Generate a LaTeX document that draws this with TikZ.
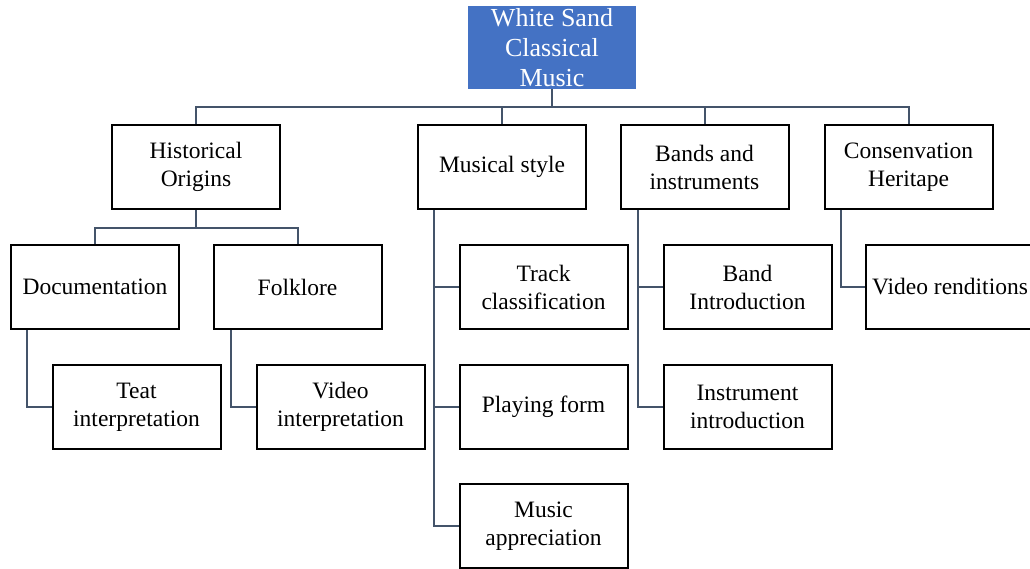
\documentclass[tikz,border=0pt]{standalone}
\usepackage{fontspec}
\setmainfont{Liberation Serif}
\usepackage{tikz}
\usepackage{xcolor}
\definecolor{rootblue}{HTML}{4472C4}
\definecolor{linkgray}{HTML}{44546A}

\begin{document}
\begin{tikzpicture}[x=1pt, y=-1pt,
    topic/.style={draw=black, line width=2pt, minimum width=168pt, minimum height=84pt,
        inner sep=2pt, align=center, font=\fontsize{23.5}{28}\selectfont},
    rootbox/.style={fill=rootblue, text=white, minimum width=168pt, minimum height=83pt,
        inner sep=0pt, align=center, font=\fontsize{26}{30}\selectfont},
    link/.style={draw=linkgray, line width=2pt}]
    \useasboundingbox (0,0) rectangle (1030,568);

    \node[rootbox] (root) at (552,47.5) {White Sand\\Classical\\Music};

    % first level
    \node[topic] (hist) at (196,167) {Historical\\Origins};
    \node[topic] (style) at (502,167) {Musical style};
    \node[topic] (bands) at (704.5,167) {Bands and\\instruments};
    \node[topic] (cons) at (908.5,167) {Consenvation\\Heritape};

    % second level
    \node[topic] (doc) at (95,287) {Documentation};
    \node[topic] (folk) at (297.5,287) {Folklore};
    \node[topic] (teat) at (136.5,407) {Teat\\interpretation};
    \node[topic] (video) at (340.5,407) {Video\\interpretation};
    \node[topic] (track) at (543.5,287) {Track\\classification};
    \node[topic] (play) at (543.5,407) {Playing form};
    \node[topic] (appr) at (543.5,526) {Music\\appreciation};
    \node[topic] (band) at (747.5,287) {Band\\Introduction};
    \node[topic] (instr) at (747.5,407) {Instrument\\introduction};
    \node[topic] (rend) at (950,287) {Video renditions};

    \foreach \n in {hist,style,bands,cons}
        \draw[link] (root.south) -- ++(0,18) -| (\n.north);
    \foreach \n in {doc,folk}
        \draw[link] (hist.south) -- ++(0,18) -| (\n.north);

    \draw[link] (doc.south west) ++(17,0) |- (teat.west);
    \draw[link] (folk.south west) ++(18,0) |- (video.west);
    \foreach \n in {track,play,appr}
        \draw[link] (style.south west) ++(17,0) |- (\n.west);
    \foreach \n in {band,instr}
        \draw[link] (bands.south west) ++(18,0) |- (\n.west);
    \draw[link] (cons.south west) ++(17,0) |- (rend.west);

\end{tikzpicture}
\end{document}
